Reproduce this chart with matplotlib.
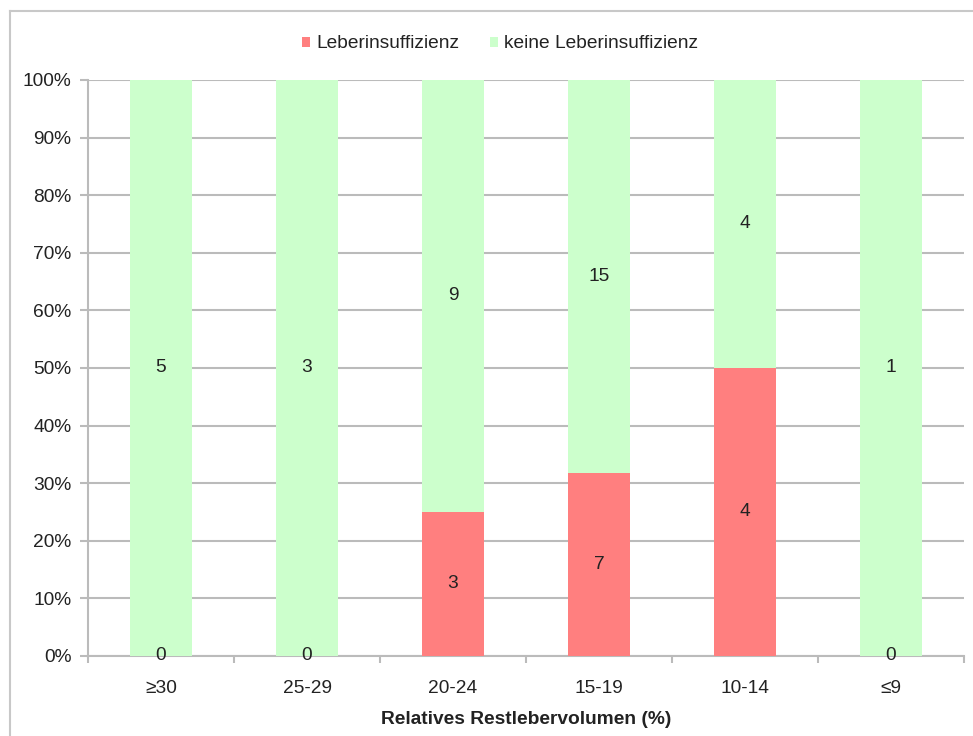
import matplotlib
matplotlib.use("Agg")
import matplotlib.pyplot as plt
from matplotlib.lines import Line2D
import numpy as np

plt.rcParams['font.family'] = ['Liberation Sans', 'DejaVu Sans']

categories = ["≥30", "25-29", "20-24", "15-19", "10-14", "≤9"]
insuff = [0, 0, 3, 7, 4, 0]
no_insuff = [5, 3, 9, 15, 4, 1]

red = "#FF7F7F"
green = "#CCFFCC"
grid_col = "#BBBBBB"
text_col = "#222222"
fs = 13.8

fig = plt.figure(figsize=(9.73, 7.36), dpi=100)
ax = fig.add_axes([88 / 973, 80 / 736, (964 - 88) / 973, (656 - 80) / 736])

x = np.arange(len(categories))
ins = np.array(insuff, dtype=float)
nos = np.array(no_insuff, dtype=float)
tot = ins + nos
p_ins = ins / tot * 100
p_nos = nos / tot * 100

w = 0.42
ax.bar(x, p_ins, width=w, color=red, zorder=3, label="Leberinsuffizienz")
ax.bar(x, p_nos, width=w, bottom=p_ins, color=green, zorder=3, label="keine Leberinsuffizienz")

for i in range(len(categories)):
    ax.text(x[i], p_ins[i] / 2, str(insuff[i]), ha="center", va="center",
            fontsize=fs, color=text_col, zorder=5)
    if no_insuff[i] > 0:
        ax.text(x[i], p_ins[i] + p_nos[i] / 2, str(no_insuff[i]), ha="center", va="center",
                fontsize=fs, color=text_col, zorder=5)

ax.set_xlim(-0.5, len(categories) - 0.5)
ax.set_ylim(0, 100)
ax.set_yticks(np.arange(0, 101, 10))
ax.set_yticklabels([f"{v}%" for v in range(0, 101, 10)], fontsize=fs, color=text_col)
ax.set_xticks(x)
ax.set_xticklabels(categories, fontsize=fs, color=text_col)
ax.set_xticks(np.arange(-0.5, len(categories), 1), minor=True)
ax.tick_params(axis="x", which="major", length=0, pad=17)
ax.tick_params(axis="x", which="minor", length=5, width=1.5, color=grid_col, direction="out")
ax.tick_params(axis="y", length=6, width=1.5, color=grid_col, pad=6)

ax.yaxis.grid(True, color=grid_col, linewidth=1.5, zorder=0)
ax.set_axisbelow(True)
for s in ["top", "right"]:
    ax.spines[s].set_visible(False)
for s in ["left", "bottom"]:
    ax.spines[s].set_color(grid_col)
    ax.spines[s].set_linewidth(1.5)

ax.set_xlabel("Relatives Restlebervolumen (%)", fontsize=fs, fontweight="bold",
              color=text_col, labelpad=10)

leg = fig.legend(loc="center", bbox_to_anchor=(500 / 973, 1 - 44 / 736), ncol=2,
                 frameon=False, fontsize=fs, handlelength=0.45, handleheight=0.45,
                 handletextpad=0.3, columnspacing=1.6)
for t in leg.get_texts():
    t.set_color(text_col)

# outer chart frame
fig.add_artist(Line2D([10 / 973, 1], [1 - 11 / 736, 1 - 11 / 736],
                      color="#C8C8C8", linewidth=1.5, transform=fig.transFigure))
fig.add_artist(Line2D([10 / 973, 10 / 973], [0, 1 - 11 / 736],
                      color="#C8C8C8", linewidth=1.5, transform=fig.transFigure))

fig.savefig("out.png", dpi=100)
